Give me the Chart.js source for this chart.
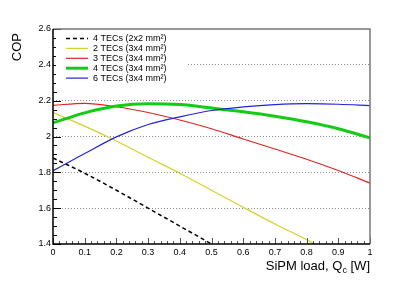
<!DOCTYPE html>
<html>
<head>
<meta charset="utf-8">
<script src="https://cdn.jsdelivr.net/npm/chart.js@4/dist/chart.umd.min.js"></script>
<style>
  html, body { margin: 0; padding: 0; background: #fff; }
  #cop { display: block; }
</style>
</head>
<body>
<canvas id="cop" width="411" height="281"></canvas>
<script>
// SiPM load in W
const loads = [0, 0.1, 0.2, 0.3, 0.4, 0.5, 0.6, 0.7, 0.8, 0.9, 1.0];
// COP per configuration
const cop4x2x2 = [1.88, 1.795, 1.70, 1.60, 1.50, 1.40];
const cop2x3x4 = [2.133, 2.058, 1.975, 1.884, 1.795, 1.700, 1.605, 1.512, 1.424, 1.33, 1.24];
const cop3x3x4 = [2.174, 2.185, 2.166, 2.134, 2.092, 2.043, 1.986, 1.930, 1.873, 1.810, 1.740];
const cop4x3x4 = [2.076, 2.132, 2.170, 2.183, 2.178, 2.159, 2.138, 2.113, 2.082, 2.043, 1.992];
const cop6x3x4 = [1.808, 1.905, 1.998, 2.067, 2.110, 2.145, 2.165, 2.178, 2.183, 2.180, 2.172];
const labels = ['4 TECs (2x2 mm²)', '2 TECs (3x4 mm²)', '3 TECs (3x4 mm²)', '4 TECs (3x4 mm²)', '6 TECs (3x4 mm²)'];

const FONT = '"Liberation Sans", Arial, sans-serif';
const pts = ys => ys.map((v, i) => ({ x: loads[i], y: v }));

// frame, inner ticks, legend box, axis titles (ROOT style)
const decor = {
	id: 'decor',
	afterDraw(chart) {
		const { ctx, chartArea: a, scales: { x, y } } = chart;
		ctx.save();

		ctx.strokeStyle = '#000';
		ctx.lineWidth = 1;
		for (let i = 0; i <= 24; i++) {
			const py = Math.round(y.getPixelForValue(1.4 + i * 0.05)) + 0.5;
			ctx.beginPath();
			ctx.moveTo(a.left, py);
			ctx.lineTo(a.left + (i % 4 === 0 ? 8 : 4), py);
			ctx.stroke();
		}
		ctx.strokeStyle = '#555';
		for (let i = 0; i <= 50; i++) {
			const px = Math.round(x.getPixelForValue(i / 50)) + 0.5;
			ctx.beginPath();
			ctx.moveTo(px, a.bottom);
			ctx.lineTo(px, a.bottom - (i % 5 === 0 ? 6 : 3));
			ctx.stroke();
		}

		// frame
		ctx.lineWidth = 1.5;
		ctx.strokeStyle = '#777';
		ctx.beginPath();
		ctx.moveTo(a.left, a.top);
		ctx.lineTo(a.right, a.top);
		ctx.lineTo(a.right, a.bottom);
		ctx.stroke();
		ctx.strokeStyle = '#000';
		ctx.beginPath();
		ctx.moveTo(a.left, a.top);
		ctx.lineTo(a.left, a.bottom);
		ctx.lineTo(a.right, a.bottom);
		ctx.stroke();

		// legend
		ctx.fillStyle = '#fff';
		ctx.fillRect(56, 31, 130, 54);
		const sets = chart.data.datasets;
		ctx.font = '9px ' + FONT;
		ctx.textBaseline = 'middle';
		ctx.textAlign = 'left';
		sets.forEach((ds, i) => {
			const ly = 38.5 + i * 9.9;
			ctx.strokeStyle = ds.borderColor;
			ctx.lineWidth = ds.borderWidth;
			ctx.setLineDash(ds.borderDash || []);
			ctx.beginPath();
			ctx.moveTo(66, ly);
			ctx.lineTo(88, ly);
			ctx.stroke();
			ctx.setLineDash([]);
			ctx.fillStyle = '#000';
			ctx.fillText(ds.label, 93, ly);
		});

		// y title
		ctx.font = '13px ' + FONT;
		ctx.fillStyle = '#000';
		ctx.save();
		ctx.translate(21, 33);
		ctx.rotate(-Math.PI / 2);
		ctx.textAlign = 'right';
		ctx.textBaseline = 'alphabetic';
		ctx.fillText('COP', 0, 0);
		ctx.restore();

		// x title with subscript
		ctx.textBaseline = 'alphabetic';
		ctx.textAlign = 'left';
		const t1 = 'SiPM load, Q', t3 = ' [W]';
		ctx.font = '13px ' + FONT;
		const w1 = ctx.measureText(t1).width, w3 = ctx.measureText(t3).width;
		ctx.font = '9px ' + FONT;
		const w2 = ctx.measureText('c').width;
		let tx = a.right - (w1 + w2 + w3);
		const base = 270;
		ctx.font = '13px ' + FONT;
		ctx.fillText(t1, tx, base);
		tx += w1;
		ctx.font = '9px ' + FONT;
		ctx.fillText('c', tx, base + 3);
		tx += w2;
		ctx.font = '13px ' + FONT;
		ctx.fillText(t3, tx, base);

		ctx.restore();
	}
};

const fmt = v => (Math.abs(v - Math.round(v)) < 1e-9 ? String(Math.round(v)) : v.toFixed(1));

new Chart(document.getElementById('cop'), {
	type: 'line',
	data: {
		datasets: [
			{ label: labels[0], data: pts(cop4x2x2), borderColor: '#000', borderWidth: 1.5, borderDash: [4, 3], order: 4 },
			{ label: labels[1], data: pts(cop2x3x4), borderColor: '#d2d22e', borderWidth: 1.2, order: 3 },
			{ label: labels[2], data: pts(cop3x3x4), borderColor: '#e02424', borderWidth: 1.2, order: 2 },
			{ label: labels[3], data: pts(cop4x3x4), borderColor: '#14cc14', borderWidth: 3, order: 1 },
			{ label: labels[4], data: pts(cop6x3x4), borderColor: '#2222dd', borderWidth: 1.2, order: 0 }
		]
	},
	options: {
		responsive: false,
		animation: false,
		devicePixelRatio: 1,
		layout: { padding: { top: 29, right: 41, left: 0, bottom: 0 } },
		elements: {
			point: { radius: 0 },
			line: { cubicInterpolationMode: 'monotone', fill: false }
		},
		plugins: { legend: { display: false }, tooltip: { enabled: false } },
		scales: {
			x: {
				type: 'linear',
				min: 0,
				max: 1,
				grid: { display: false, drawTicks: false },
				border: { display: false },
				ticks: { stepSize: 0.1, maxRotation: 0, padding: 3, color: '#000', font: { size: 9, family: FONT }, callback: fmt },
				afterFit: s => { s.height = 37; }
			},
			y: {
				min: 1.4,
				max: 2.6,
				grid: {
					drawTicks: false,
					color: c => (c.tick && (c.tick.value < 1.45 || c.tick.value > 2.55) ? 'rgba(0,0,0,0)' : '#8a8a8a'),
					lineWidth: 1
				},
				border: { display: false, dash: [1, 2] },
				ticks: { stepSize: 0.2, padding: 2, color: '#000', font: { size: 9, family: FONT }, callback: fmt },
				afterFit: s => { s.width = 53; }
			}
		}
	},
	plugins: [decor]
});
</script>
</body>
</html>
